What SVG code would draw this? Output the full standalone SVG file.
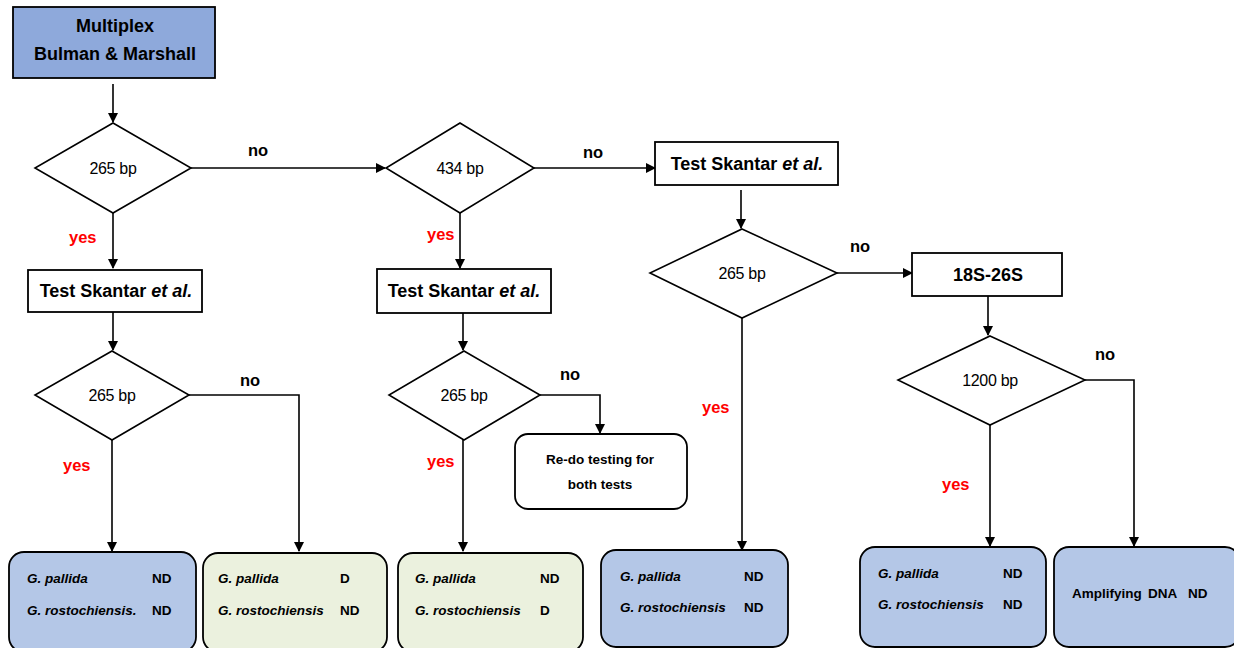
<svg xmlns="http://www.w3.org/2000/svg" width="1234" height="648" viewBox="0 0 1234 648">
<defs>
<marker id="ah" markerWidth="10" markerHeight="10" refX="9" refY="5" orient="auto" markerUnits="userSpaceOnUse">
<path d="M0,0 L10,5 L0,10 Z" fill="#000"/>
</marker>
<style>
.bx{fill:#fff;stroke:#000;stroke-width:1.8}
.dm{fill:#fff;stroke:#000;stroke-width:1.6}
.blue{fill:#B4C7E7;stroke:#000;stroke-width:1.8}
.green{fill:#EBF1DE;stroke:#000;stroke-width:1.8}
.ln{fill:none;stroke:#000;stroke-width:1.6}
.t{font-family:"Liberation Sans",Arial,sans-serif;font-size:18px;font-weight:bold;fill:#000;text-anchor:middle}
.d{font-family:"Liberation Sans",Arial,sans-serif;font-size:16px;fill:#000;text-anchor:middle;letter-spacing:-0.3px}
.no{font-family:"Liberation Sans",Arial,sans-serif;font-size:16.5px;font-weight:bold;fill:#000}
.yes{font-family:"Liberation Sans",Arial,sans-serif;font-size:16.5px;font-weight:bold;fill:#FF0000}
.sp{font-family:"Liberation Sans",Arial,sans-serif;font-size:13.5px;font-weight:bold;font-style:italic;fill:#000}
.r{font-family:"Liberation Sans",Arial,sans-serif;font-size:13.5px;font-weight:bold;fill:#000}
</style>
</defs>
<rect width="1234" height="648" fill="#fff"/>

<g id="connectors">
<line class="ln" x1="113" y1="84" x2="113" y2="122" marker-end="url(#ah)"/>
<line class="ln" x1="191" y1="168" x2="385" y2="168" marker-end="url(#ah)"/>
<line class="ln" x1="534" y1="168" x2="655" y2="168" marker-end="url(#ah)"/>
<line class="ln" x1="741" y1="190" x2="741" y2="228" marker-end="url(#ah)"/>
<line class="ln" x1="837" y1="273" x2="912" y2="273" marker-end="url(#ah)"/>
<line class="ln" x1="988" y1="296" x2="988" y2="335" marker-end="url(#ah)"/>
<polyline class="ln" points="1085,380 1134,380 1134,546" marker-end="url(#ah)"/>
<line class="ln" x1="990" y1="425" x2="990" y2="546" marker-end="url(#ah)"/>
<line class="ln" x1="742" y1="318" x2="742" y2="550" marker-end="url(#ah)"/>
<line class="ln" x1="113" y1="213" x2="113" y2="268" marker-end="url(#ah)"/>
<line class="ln" x1="113" y1="312" x2="113" y2="350" marker-end="url(#ah)"/>
<polyline class="ln" points="189,395 299,395 299,551" marker-end="url(#ah)"/>
<line class="ln" x1="112" y1="440" x2="112" y2="551" marker-end="url(#ah)"/>
<line class="ln" x1="460" y1="213" x2="460" y2="268" marker-end="url(#ah)"/>
<line class="ln" x1="463" y1="313" x2="463" y2="350" marker-end="url(#ah)"/>
<polyline class="ln" points="540,395 600,395 600,433" marker-end="url(#ah)"/>
<line class="ln" x1="463" y1="440" x2="463" y2="551" marker-end="url(#ah)"/>
<text class="no" x="248" y="156">no</text>
<text class="no" x="583" y="158">no</text>
<text class="no" x="850" y="252">no</text>
<text class="no" x="1095" y="360">no</text>
<text class="no" x="240" y="386">no</text>
<text class="no" x="560" y="380">no</text>
<text class="yes" x="69" y="243">yes</text>
<text class="yes" x="427" y="240">yes</text>
<text class="yes" x="63" y="471">yes</text>
<text class="yes" x="427" y="467">yes</text>
<text class="yes" x="702" y="413">yes</text>
<text class="yes" x="942" y="490">yes</text>
</g>

<g id="start">
<rect x="13" y="7" width="202" height="71" fill="#8EA9DB" stroke="#000" stroke-width="1.8"/>
<text class="t" x="115" y="32" font-size="17">Multiplex</text>
<text class="t" x="115" y="60" font-size="17">Bulman &amp; Marshall</text>
</g>

<g id="d1"><polygon class="dm" points="113,123 191,168 113,213 35,168"/><text class="d" x="113" y="174">265 bp</text></g>
<g id="d2"><polygon class="dm" points="460,123 534,168 460,213 386,168"/><text class="d" x="460" y="174">434 bp</text></g>
<g id="t3"><rect class="bx" x="655" y="142" width="183" height="43"/><text class="t" x="747" y="170">Test Skantar <tspan font-style="italic">et al.</tspan></text></g>
<g id="d3"><polygon class="dm" points="742,229 837,273 742,318 650,273"/><text class="d" x="742" y="279">265 bp</text></g>
<g id="r18"><rect class="bx" x="912" y="253" width="150" height="43"/><text class="t" x="988" y="281">18S-26S</text></g>
<g id="d4"><polygon class="dm" points="990,336 1085,380 990,425 898,380"/><text class="d" x="990" y="386">1200 bp</text></g>
<g id="t1"><rect class="bx" x="28" y="270" width="174" height="42"/><text class="t" x="116" y="297">Test Skantar <tspan font-style="italic">et al.</tspan></text></g>
<g id="d5"><polygon class="dm" points="112,351 189,395 112,440 35,395"/><text class="d" x="112" y="401">265 bp</text></g>
<g id="t2"><rect class="bx" x="377" y="269" width="174" height="44"/><text class="t" x="464" y="297">Test Skantar <tspan font-style="italic">et al.</tspan></text></g>
<g id="d6"><polygon class="dm" points="464,351 540,395 464,440 389,395"/><text class="d" x="464" y="401">265 bp</text></g>
<g id="redo"><rect class="bx" x="515" y="434" width="172" height="75" rx="13"/><text class="r" x="600" y="464" text-anchor="middle" font-size="14">Re-do testing for</text><text class="r" x="600" y="489" text-anchor="middle" font-size="14">both tests</text></g>

<g id="b1"><rect class="blue" x="9" y="552" width="187" height="100" rx="15"/>
<text class="sp" x="27" y="583">G. pallida</text><text class="r" x="152" y="583">ND</text>
<text class="sp" x="27" y="615">G. rostochiensis.</text><text class="r" x="152" y="615">ND</text></g>
<g id="b2"><rect class="green" x="203" y="553" width="184" height="99" rx="15"/>
<text class="sp" x="218" y="583">G. pallida</text><text class="r" x="340" y="583">D</text>
<text class="sp" x="218" y="615">G. rostochiensis</text><text class="r" x="340" y="615">ND</text></g>
<g id="b3"><rect class="green" x="398" y="553" width="185" height="99" rx="15"/>
<text class="sp" x="415" y="583">G. pallida</text><text class="r" x="540" y="583">ND</text>
<text class="sp" x="415" y="615">G. rostochiensis</text><text class="r" x="540" y="615">D</text></g>
<g id="b4"><rect class="blue" x="601" y="550" width="187" height="97" rx="15"/>
<text class="sp" x="620" y="581">G. pallida</text><text class="r" x="744" y="581">ND</text>
<text class="sp" x="620" y="612">G. rostochiensis</text><text class="r" x="744" y="612">ND</text></g>
<g id="b5"><rect class="blue" x="860" y="547" width="186" height="100" rx="15"/>
<text class="sp" x="878" y="578">G. pallida</text><text class="r" x="1003" y="578">ND</text>
<text class="sp" x="878" y="609">G. rostochiensis</text><text class="r" x="1003" y="609">ND</text></g>
<g id="b6"><rect class="blue" x="1054" y="547" width="186" height="100" rx="15"/>
<text class="r" x="1072" y="598">Amplifying</text><text class="r" x="1148" y="598">DNA</text><text class="r" x="1188" y="598">ND</text></g>
</svg>
